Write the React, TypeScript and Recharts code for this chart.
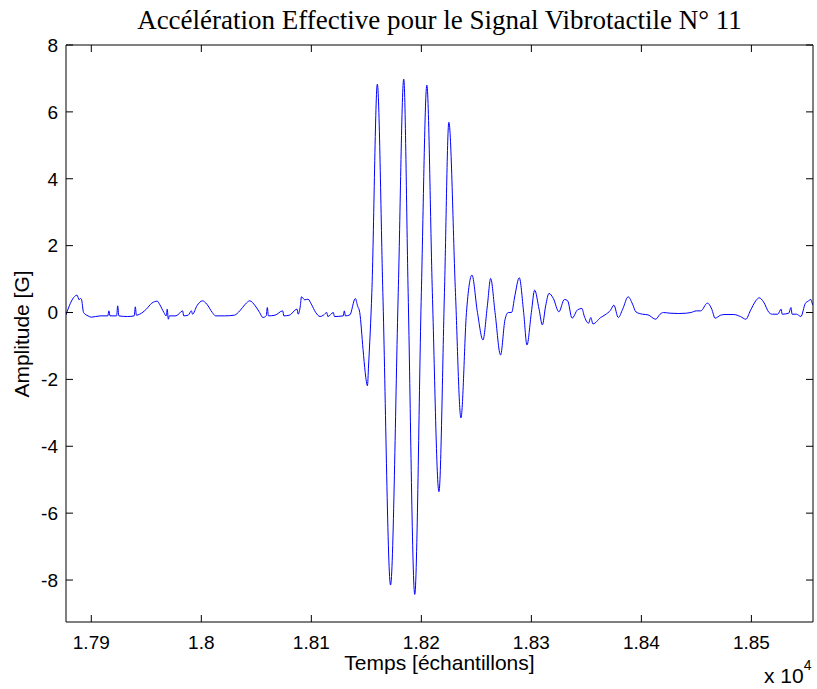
import { LineChart, Line, XAxis, YAxis } from 'recharts'

// samples (x) and effective acceleration in G (y)
const samples = [
  17877, 17880, 17884, 17887, 17889, 17890, 17891, 17893, 17897, 17900,
  17908, 17915, 17916, 17917, 17923, 17924, 17925, 17933, 17939, 17940,
  17941, 17944, 17950, 17955, 17960, 17962, 17966, 17968, 17969, 17970,
  17971, 17977, 17983, 17984, 17988, 17991, 17992, 17996, 18001, 18005,
  18010, 18013, 18021, 18030, 18035, 18040, 18044, 18049, 18053, 18056,
  18059, 18060, 18061, 18067, 18074, 18075, 18080, 18087, 18088, 18090,
  18091, 18094, 18097, 18100, 18104, 18108, 18111, 18114, 18115, 18120,
  18121, 18129, 18130, 18131, 18135, 18140, 18142, 18144, 18147, 18149,
  18151, 18152, 18155, 18160, 18165, 18172, 18179, 18184, 18188, 18194,
  18200, 18205, 18210, 18216, 18221, 18225, 18231, 18236, 18241, 18246,
  18251, 18256, 18260, 18263, 18267, 18272, 18276, 18279, 18282, 18285,
  18289, 18293, 18296, 18300, 18303, 18307, 18310, 18313, 18316, 18320,
  18325, 18330, 18333, 18337, 18342, 18346, 18348, 18352, 18354, 18356,
  18363, 18367, 18372, 18375, 18379, 18383, 18388, 18392, 18395, 18401,
  18406, 18413, 18417, 18420, 18426, 18434, 18441, 18445, 18450, 18454,
  18460, 18464, 18467, 18472, 18476, 18484, 18490, 18495, 18499, 18504,
  18507, 18511, 18516, 18519, 18524, 18527, 18528, 18534, 18536, 18537,
  18541, 18545, 18549, 18552, 18554, 18555, 18556,
]

const amplitude = [
  -0.07, 0.2, 0.45, 0.52, 0.38, 0.42, 0.4, 0.0, -0.1, -0.14,
  -0.1, -0.1, 0.05, -0.1, -0.1, 0.2, -0.1, -0.12, -0.1, 0.17,
  -0.08, -0.05, 0.1, 0.28, 0.34, 0.25, 0.0, -0.1, 0.1, -0.2,
  -0.1, -0.1, 0.05, -0.1, -0.08, 0.05, -0.05, 0.2, 0.35, 0.25,
  0.0, -0.1, -0.1, -0.08, 0.05, 0.25, 0.35, 0.2, 0.0, -0.15,
  -0.1, 0.15, -0.1, -0.08, 0.05, -0.1, -0.08, 0.1, -0.05, 0.2,
  0.47, 0.38, 0.4, 0.25, 0.0, -0.12, -0.08, 0.0, -0.12, 0.0,
  -0.12, -0.1, 0.05, -0.1, -0.07, 0.42, 0.2, 0.0, -1.1, -1.8,
  -2.19, -1.6, 0.6, 6.83, 0.6, -8.15, 0.6, 6.98, 0.6, -8.43,
  0.6, 6.8, 0.6, -5.36, 0.6, 5.69, 0.6, -3.15, 0.0, 1.12,
  0.0, -0.82, 0.2, 1.02, 0.0, -1.27, -0.22, 0.0, 0.0, 0.5,
  1.04, 0.0, -0.97, 0.0, 0.67, 0.1, -0.37, 0.2, 0.57, 0.42,
  0.02, 0.39, 0.35, -0.17, 0.08, 0.12, -0.1, -0.32, -0.15, -0.34,
  -0.15, -0.07, 0.07, 0.22, -0.15, 0.1, 0.47, 0.25, 0.02, -0.05,
  -0.07, -0.2, -0.05, 0.0, -0.02, -0.03, -0.02, 0.0, 0.05, 0.05,
  0.28, 0.1, -0.17, -0.08, -0.06, -0.06, -0.12, -0.2, 0.05, 0.35,
  0.44, 0.32, 0.0, -0.05, -0.05, 0.1, -0.05, -0.02, 0.15, -0.05,
  -0.05, -0.12, 0.27, 0.35, 0.39, 0.3, 0.22,
]

const xTicks = [17900, 18000, 18100, 18200, 18300, 18400, 18500]
const yTicks = [-8, -6, -4, -2, 0, 2, 4, 6, 8]
const X_DOMAIN = [17877, 18556]
const Y_DOMAIN = [-9.255, 8]

const data = samples.map((s, i) => ({ s, amp: amplitude[i] }))

const SANS = '"Liberation Sans", Arial, Helvetica, sans-serif'
const SERIF = '"Liberation Serif", "Times New Roman", serif'
const TICK_LEN = 7
const FS = 19
const LABEL_FS = 21

const fmtX = (v: number) => String(parseFloat((v / 10000).toFixed(2)))

// MATLAB style: tick marks point into the box
function BottomTick({ x, y, payload }: any) {
  return (
    <g>
      <line x1={x} x2={x} y1={y} y2={y - TICK_LEN} stroke="#000" />
      <text x={x} y={y + 27} textAnchor="middle" fontSize={FS} fontFamily={SANS} fill="#000">
        {fmtX(payload.value)}
      </text>
    </g>
  )
}

function TopTick({ x, y }: any) {
  return <line x1={x} x2={x} y1={y} y2={y + TICK_LEN} stroke="#000" />
}

function LeftTick({ x, y, payload }: any) {
  return (
    <g>
      <line x1={x} x2={x + TICK_LEN} y1={y} y2={y} stroke="#000" />
      <text x={x - 8} y={y} dy="0.36em" textAnchor="end" fontSize={FS} fontFamily={SANS} fill="#000">
        {payload.value}
      </text>
    </g>
  )
}

function RightTick({ x, y }: any) {
  return <line x1={x} x2={x - TICK_LEN} y1={y} y2={y} stroke="#000" />
}

export default function App() {
  return (
    <div style={{ position: 'absolute', left: 0, top: 0, width: 817, height: 689, background: '#fff' }}>
      <LineChart
        width={817}
        height={689}
        data={data}
        margin={{ top: 44, right: 3, bottom: 66, left: 65 }}
      >
        <XAxis
          xAxisId="bottom"
          dataKey="s"
          type="number"
          domain={X_DOMAIN}
          allowDataOverflow
          ticks={xTicks}
          interval={0}
          height={1}
          tickSize={0}
          tickMargin={0}
          tickLine={false}
          axisLine={{ stroke: '#000' }}
          tick={BottomTick}
        />
        <XAxis
          xAxisId="top"
          orientation="top"
          dataKey="s"
          type="number"
          domain={X_DOMAIN}
          allowDataOverflow
          ticks={xTicks}
          interval={0}
          height={1}
          tickSize={0}
          tickMargin={0}
          tickLine={false}
          axisLine={{ stroke: '#000' }}
          tick={TopTick}
        />
        <YAxis
          yAxisId="left"
          type="number"
          domain={Y_DOMAIN}
          allowDataOverflow
          ticks={yTicks}
          interval={0}
          width={1}
          tickSize={0}
          tickMargin={0}
          tickLine={false}
          axisLine={{ stroke: '#000' }}
          tick={LeftTick}
        />
        <YAxis
          yAxisId="right"
          orientation="right"
          type="number"
          domain={Y_DOMAIN}
          allowDataOverflow
          ticks={yTicks}
          interval={0}
          width={1}
          tickSize={0}
          tickMargin={0}
          tickLine={false}
          axisLine={{ stroke: '#000' }}
          tick={RightTick}
        />
        <Line
          xAxisId="bottom"
          yAxisId="left"
          dataKey="amp"
          type="monotone"
          stroke="#0000ff"
          strokeWidth={1}
          dot={false}
          activeDot={false}
          isAnimationActive={false}
        />
      </LineChart>

      {/* title and axis labels */}
      <div
        style={{
          position: 'absolute', left: 66, top: 5, width: 747, textAlign: 'center',
          fontFamily: SERIF, fontSize: 27, color: '#000', whiteSpace: 'nowrap',
        }}
      >
        Accélération Effective pour le Signal Vibrotactile N° 11
      </div>
      <div
        style={{
          position: 'absolute', left: 66, top: 651, width: 747, textAlign: 'center',
          fontFamily: SANS, fontSize: LABEL_FS, color: '#000', whiteSpace: 'nowrap',
        }}
      >
        Temps [échantillons]
      </div>
      <div style={{ position: 'absolute', left: 0, top: 334, width: 0, height: 0 }}>
        <div
          style={{
            position: 'absolute', left: 22, top: 0, transform: 'translate(-50%, -50%) rotate(-90deg)',
            fontFamily: SANS, fontSize: LABEL_FS, color: '#000', whiteSpace: 'nowrap',
          }}
        >
          Amplitude [G]
        </div>
      </div>
      <div
        style={{
          position: 'absolute', left: 764, top: 664, fontFamily: SANS, fontSize: LABEL_FS,
          color: '#000', whiteSpace: 'nowrap',
        }}
      >
        x 10<sup style={{ fontSize: 14, verticalAlign: 'top', position: 'relative', top: -7 }}>4</sup>
      </div>
    </div>
  )
}
